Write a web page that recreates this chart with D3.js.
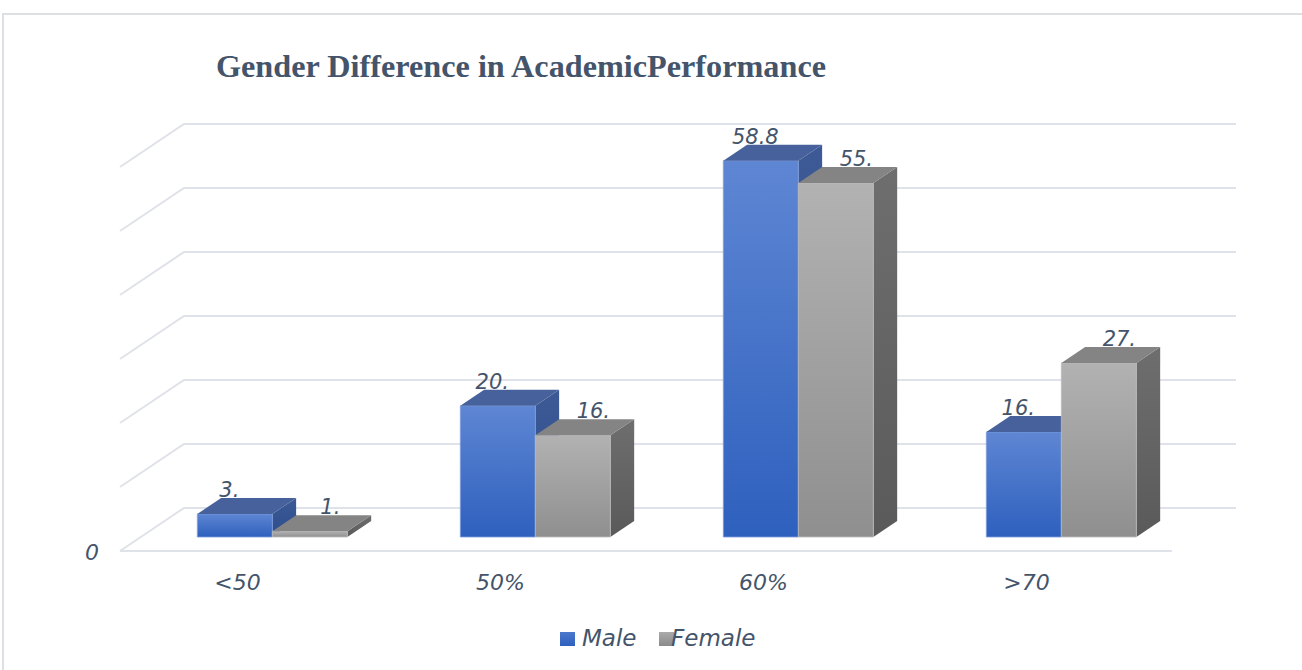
<!DOCTYPE html>
<html>
<head>
<meta charset="utf-8">
<script src="https://cdn.jsdelivr.net/npm/d3@7"></script>
<style>
  body { margin: 0; background: #fff; }
  svg { display: block; }
  .hand { font-family: "DejaVu Sans", sans-serif; font-weight: 200; font-style: italic; fill: #44546a; }
</style>
</head>
<body>
<div id="c1"></div>
<script>
// Data
var categories = ["<50", "50%", "60%", ">70"];
var series = ["Male", "Female"];
var maleValues = [3.6, 20.5, 58.8, 16.4];
var femaleValues = [0.9, 15.9, 55.3, 27.2];
var maleLabels = ["3.", "20.", "58.8", "16."];
var femaleLabels = ["1.", "16.", "55.", "27."];
var yTicks = [0, 10, 20, 30, 40, 50, 60];

var w = 1302, h = 670;
var floorY = 551;      // front edge of floor
var depthX = 64, depthY = 43;  // full depth offset
var d0 = 14 / 43, d1 = 30 / 43; // bar front / back depth

var svg = d3.select("#c1").append("svg")
    .attr("width", w)
    .attr("height", h);

var defs = svg.append("defs");
function grad(id, c1, c2) {
    var g = defs.append("linearGradient").attr("id", id)
        .attr("x1", 0).attr("y1", 0).attr("x2", 0).attr("y2", 1);
    g.append("stop").attr("offset", "0%").attr("stop-color", c1);
    g.append("stop").attr("offset", "100%").attr("stop-color", c2);
}
grad("maleFront", "#5e86d3", "#2e60be");
grad("maleSide", "#3d5a96", "#2c4c8c");
grad("femaleFront", "#b2b2b2", "#8f8f8f");
grad("femaleSide", "#6e6e6e", "#5a5a5a");
grad("maleLeg", "#4c78cc", "#2e60be");
grad("femaleLeg", "#aaaaaa", "#8a8a8a");

var colors = {
    Male: { front: "url(#maleFront)", top: "#46619b", side: "url(#maleSide)", edge: "#7d9ddd" },
    Female: { front: "url(#femaleFront)", top: "#848484", side: "url(#femaleSide)", edge: "#bdbdbd" }
};

// chart border
svg.append("rect")
    .attr("x", 3).attr("y", 14)
    .attr("width", w + 10).attr("height", h)
    .attr("fill", "none")
    .attr("stroke", "#dcdfe4")
    .attr("stroke-width", 2);

// Title
svg.append("text")
    .attr("x", 216).attr("y", 77)
    .attr("textLength", 610)
    .attr("lengthAdjust", "spacingAndGlyphs")
    .style("font-family", "'Liberation Serif', 'Times New Roman', serif")
    .style("font-weight", "bold")
    .style("font-size", "32px")
    .style("fill", "#44546a")
    .text("Gender Difference in AcademicPerformance");

// Scales
var x0 = d3.scaleBand().domain(categories).range([120, 1172]);
var x1 = d3.scaleBand().domain(series).range([0, x0.bandwidth()]).paddingOuter(0.753);
var y = d3.scaleLinear().domain([0, 60]).range([0, 384]);

function proj(fx, d, v) {
    return [fx + depthX * d, floorY - depthY * d - y(v)];
}

// Gridlines (back wall + left wall)
var grid = svg.append("g");
var left = x0.range()[0], right = x0.range()[1];
yTicks.forEach(function (t) {
    var a = proj(left, 0, t), b = proj(left, 1, t), c = proj(right, 1, t);
    grid.append("polyline")
        .attr("points", [a, b, c].map(function (p) { return p.join(","); }).join(" "))
        .attr("fill", "none")
        .attr("stroke", "#dfe2e8")
        .attr("stroke-width", 2);
});
// floor front edge
grid.append("line")
    .attr("x1", proj(left, 0, 0)[0]).attr("y1", proj(left, 0, 0)[1])
    .attr("x2", proj(right, 0, 0)[0]).attr("y2", proj(right, 0, 0)[1])
    .attr("stroke", "#dfe2e8")
    .attr("stroke-width", 2);

// y label (only 0 visible)
svg.append("text")
    .attr("class", "hand")
    .attr("x", 99).attr("y", 560)
    .attr("text-anchor", "end")
    .style("font-size", "22px")
    .text(y.domain()[0]);

// Bars
var rows = [];
categories.forEach(function (c, i) {
    rows.push({ cat: c, s: "Male", v: maleValues[i], label: maleLabels[i] });
    rows.push({ cat: c, s: "Female", v: femaleValues[i], label: femaleLabels[i] });
});

var bw = x1.bandwidth();
var bars = svg.append("g").selectAll("g.bar")
    .data(rows)
    .enter()
    .append("g")
    .attr("class", "bar");

function pts(arr) { return arr.map(function (p) { return p.join(","); }).join(" "); }

bars.each(function (d) {
    var g = d3.select(this);
    var fx = x0(d.cat) + x1(d.s);
    var col = colors[d.s];
    var ftl = proj(fx, d0, d.v), ftr = proj(fx + bw, d0, d.v);
    var fbr = proj(fx + bw, d0, 0), fbl = proj(fx, d0, 0);
    var btl = proj(fx, d1, d.v), btr = proj(fx + bw, d1, d.v);
    var bbr = proj(fx + bw, d1, 0);
    g.append("polygon").attr("points", pts([ftr, btr, bbr, fbr])).attr("fill", col.side);
    g.append("polygon").attr("points", pts([ftl, ftr, fbr, fbl])).attr("fill", col.front)
        .attr("stroke", col.edge).attr("stroke-width", 0.8);
    g.append("polygon").attr("points", pts([ftl, ftr, btr, btl])).attr("fill", col.top);
});

// Data labels
bars.append("text")
    .attr("class", "hand")
    .attr("text-anchor", "middle")
    .style("font-size", "21px")
    .attr("x", function (d) {
        return proj(x0(d.cat) + x1(d.s), d0, 0)[0] + (d.s == "Male" ? 32 : 58);
    })
    .attr("y", function (d) {
        return proj(0, d1, d.v)[1] - 1;
    })
    .text(function (d) { return d.label; });

// Category labels
svg.append("g").selectAll("text")
    .data(categories)
    .enter()
    .append("text")
    .attr("class", "hand")
    .attr("text-anchor", "middle")
    .style("font-size", "22px")
    .attr("x", function (d) { return x0(d) + x0.bandwidth() / 2 - 14; })
    .attr("y", 590)
    .text(function (d) { return d; });

// Legend
var legend = svg.append("g");
var legX = [560, 659];
series.forEach(function (s, i) {
    legend.append("rect")
        .attr("x", legX[i]).attr("y", 632)
        .attr("width", 15).attr("height", 14)
        .attr("fill", i == 0 ? "url(#maleLeg)" : "url(#femaleLeg)");
    legend.append("text")
        .attr("class", "hand")
        .attr("x", legX[i] + (i == 0 ? 22 : 12)).attr("y", 646)
        .style("font-size", "23px")
        .text(s);
});
</script>
</body>
</html>
